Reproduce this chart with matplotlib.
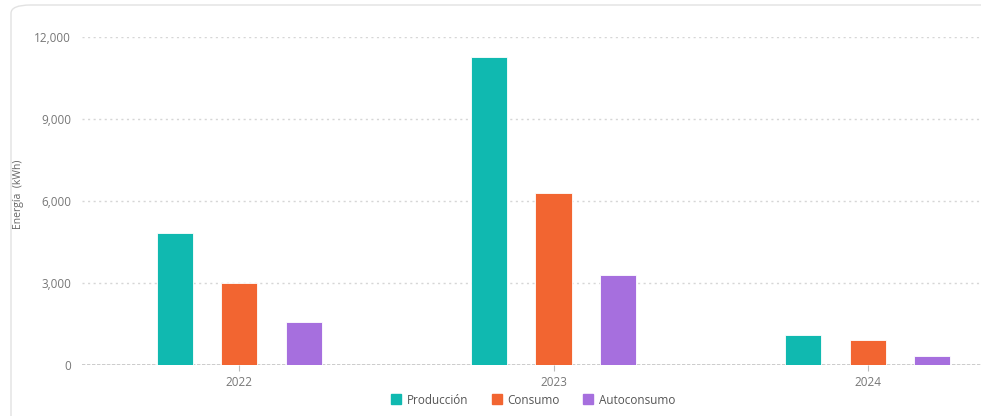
import matplotlib
matplotlib.use("Agg")
import matplotlib.pyplot as plt
from matplotlib.patches import FancyBboxPatch
from matplotlib.lines import Line2D
from matplotlib.ticker import FuncFormatter
import numpy as np

years = ["2022", "2023", "2024"]
produccion = [4800, 11240, 1080]
consumo = [2990, 6275, 896]
autoconsumo = [1555, 3286, 311]
series_names = ["Producción", "Consumo", "Autoconsumo"]
colors = ["#10B9B0", "#F26531", "#A66FDE"]
yticks = [0, 3000, 6000, 9000, 12000]

plt.rcParams["font.family"] = ["Open Sans", "DejaVu Sans"]

W, H = 981, 416
fig = plt.figure(figsize=(W / 100, H / 100), dpi=100)

# card outline
card = FancyBboxPatch((11 / W, -0.2), 1.2, 1.2 - 5 / H,
                      boxstyle="round,pad=0,rounding_size=0.02",
                      transform=fig.transFigure, facecolor="none",
                      edgecolor="#E2E2E2", linewidth=1.0, zorder=-1)
fig.patches.append(card)

ax = fig.add_axes([82 / W, 51.5 / H, 943 / W, 328 / H])
ax.set_facecolor("none")

x = np.arange(len(years))
offset, width = 0.205, 0.115
for i, (vals, name) in enumerate(zip([produccion, consumo, autoconsumo], series_names)):
    ax.bar(x + (i - 1) * offset, vals, width, color=colors[i],
           edgecolor="#FFFFFF", linewidth=0.6, zorder=3, label=name)

ax.set_xlim(-0.5, 2.5)
ax.set_ylim(0, 12000)
ax.set_yticks(yticks)
ax.yaxis.set_major_formatter(FuncFormatter(lambda v, p: f"{int(v):,}"))
ax.set_xticks(x)
ax.set_xticklabels(years)
ax.tick_params(axis="y", length=0, pad=8, labelsize=8.5, labelcolor="#777777")
ax.tick_params(axis="x", length=4, width=0.8, color="#BBBBBB", pad=4,
               labelsize=8.5, labelcolor="#777777")
for s in ax.spines.values():
    s.set_visible(False)
ax.grid(axis="y", linestyle=(0, (1.5, 2.5)), color="#D6D6D6", linewidth=1, zorder=0)
ax.axhline(0, color="#C4C4C4", linewidth=1.2, linestyle=(0, (2, 1)), zorder=2)

fig.text(18 / W, 1 - 194 / H, "Energía  (kWh)", rotation=90, ha="center", va="center",
         fontsize=7.5, color="#666666")

handles = [Line2D([], [], marker="s", linestyle="none", markersize=6.5,
                  markerfacecolor=c, markeredgecolor=c) for c in colors]
fig.legend(handles, series_names, loc="center", bbox_to_anchor=(532 / W, 16 / H),
           ncol=3, frameon=False, fontsize=8.5, labelcolor="#555555",
           handletextpad=0.3, columnspacing=1.8, handlelength=1.2)

fig.savefig("out.png", dpi=100)
